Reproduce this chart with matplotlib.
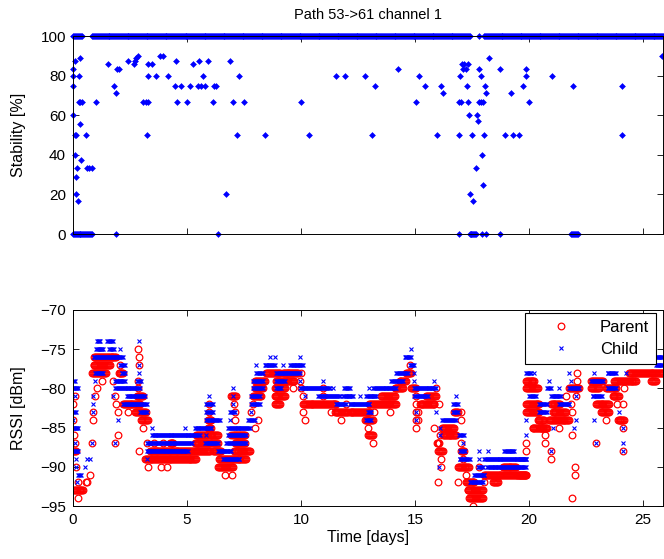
import numpy as np
import matplotlib
matplotlib.use("Agg")
import matplotlib.pyplot as plt

plt.rcParams['font.family'] = ['Liberation Sans', 'DejaVu Sans']

# one sample per hour, time in days
dt = 1.0 / 24

# ---- Stability [%] ----
# runs (start day, end day, value)
stab_runs = [
    (0.00, 0.38, 100), (0.85, 17.39, 100), (17.82, 17.82, 100), (18.04, 25.87, 100),
    (0.00, 0.82, 0), (1.90, 1.90, 0), (6.36, 6.36, 0), (16.92, 16.92, 0),
    (17.39, 17.68, 0), (17.93, 17.93, 0), (18.12, 18.12, 0), (18.73, 18.73, 0),
    (21.84, 22.13, 0),
]
stab_t = [0.01, 0.09, 0.00, 0.25, 0.00, 0.30, 0.25, 0.32, 0.38, 0.00, 0.30, 0.08,
          0.12, 0.55, 0.09, 0.35, 0.19, 0.60, 0.70, 0.82, 0.13, 0.13, 0.23, 1.00,
          1.55, 1.80, 1.90, 1.93, 2.03, 2.42, 2.67, 2.72, 2.78, 2.86, 3.08, 3.20,
          3.30, 3.26, 3.30, 3.45, 3.30, 3.66, 3.81, 3.95, 4.15, 4.47, 4.72, 4.51,
          4.57, 5.00, 5.15, 5.27, 5.53, 5.49, 5.60, 5.78, 5.68, 5.93, 6.18, 6.29,
          6.12, 6.70, 6.88, 7.00, 7.27, 7.21, 7.50, 8.41, 10.01, 10.35, 11.52, 11.91,
          12.79, 13.23, 13.12, 14.25, 15.17, 15.42, 15.05, 15.96, 16.15, 16.22, 16.92, 16.92,
          17.02, 16.98, 17.07, 17.15, 17.31, 17.10, 17.22, 17.27, 17.31, 17.36, 17.48, 17.42,
          17.53, 17.68, 17.72, 17.78, 17.80, 17.88, 17.98, 17.82, 17.87, 17.93, 17.97, 18.00,
          18.07, 18.12, 18.22, 18.73, 18.96, 19.21, 19.28, 19.57, 19.72, 19.87, 19.87, 20.01,
          21.01, 21.93, 24.09, 24.09, 25.83]
stab_v = [83.3, 87.5, 80, 80, 75, 88.9, 66.7, 66.7, 66.7, 60, 55.6, 50,
          50, 50, 40, 37.5, 33.3, 33.3, 33.3, 33.3, 28.6, 20, 16.7, 66.7,
          85.7, 75, 71.4, 83.3, 83.3, 87.5, 85.7, 87.5, 88.9, 90, 66.7, 66.7,
          66.7, 50, 85.7, 85.7, 80, 80, 90, 90, 80, 75, 75, 87.5,
          66.7, 66.7, 75, 85.7, 87.5, 75, 75, 75, 80, 87.5, 75, 75,
          66.7, 20, 87.5, 66.7, 80, 50, 66.7, 50, 66.7, 50, 80, 80,
          80, 75, 50, 83.3, 80, 75, 66.7, 50, 75, 71.4, 50, 66.7,
          66.7, 80, 85.7, 85.7, 85.7, 83.3, 83.3, 75, 66.7, 60, 50, 20,
          16.7, 33.3, 60, 57.1, 66.7, 66.7, 66.7, 83.3, 80, 40, 25, 50,
          75, 71.4, 88.9, 83.3, 50, 71.4, 50, 50, 75, 83.3, 80, 66.7,
          80, 75, 75, 50, 90]

# ---- RSSI [dBm], runs (start day, end day, dBm) ----
parent_runs = [
    # first day
    (0.00, 0.00, -82), (0.00, 0.00, -84), (0.09, 0.09, -81), (0.05, 0.05, -86),
    (0.09, 0.09, -87), (0.02, 0.15, -88), (0.15, 0.15, -90), (0.23, 0.23, -92),
    (0.04, 0.45, -93), (0.23, 0.23, -94), (0.57, 0.62, -92), (0.74, 0.74, -91),
    (0.84, 0.84, -87), (0.86, 0.86, -84), (0.86, 0.86, -83),
    # first peak
    (0.93, 1.90, -76), (0.90, 1.62, -77), (0.85, 1.45, -78), (1.04, 1.04, -80),
    (0.96, 0.96, -81), (1.26, 1.26, -79), (1.77, 1.77, -79), (1.84, 1.84, -81),
    (1.90, 1.90, -82), (1.99, 1.99, -83), (1.99, 1.99, -86), (1.84, 1.84, -87),
    (2.06, 2.06, -77), (2.00, 2.20, -78), (2.86, 2.86, -75), (2.90, 2.90, -76),
    (2.90, 2.90, -77), (2.86, 2.86, -79), (2.86, 2.86, -80), (2.80, 3.05, -81),
    (2.20, 2.93, -82), (2.40, 2.40, -83), (2.72, 3.20, -83), (3.00, 3.30, -84),
    (3.08, 3.08, -85), (2.90, 2.90, -88),
    # first dip
    (3.25, 3.25, -87), (3.55, 3.55, -87), (3.95, 3.95, -87), (4.25, 4.40, -87),
    (3.37, 6.00, -88), (3.15, 5.40, -89), (3.30, 3.30, -90), (3.88, 3.88, -90),
    (4.10, 4.10, -90),
    (5.40, 5.90, -86), (5.34, 5.99, -87), (5.95, 5.95, -82), (5.95, 5.95, -83),
    (5.92, 6.07, -84), (5.90, 6.07, -85), (5.99, 6.36, -86), (6.07, 6.36, -87),
    (6.14, 6.50, -88), (6.40, 7.00, -89), (6.36, 7.00, -90), (6.66, 6.66, -91),
    (6.95, 6.95, -91), (7.05, 7.75, -88), (7.09, 7.53, -87), (7.02, 7.53, -86),
    (6.94, 6.94, -86), (7.00, 7.60, -89), (6.94, 7.16, -81), (7.06, 7.06, -82),
    (7.09, 7.09, -83), (7.09, 7.09, -84),
    # second peak
    (7.90, 7.90, -82), (7.82, 7.82, -83), (8.10, 8.10, -84), (7.97, 7.97, -85),
    (7.90, 8.26, -81), (7.97, 8.33, -80), (7.97, 8.40, -79), (8.48, 9.06, -78),
    (8.84, 9.28, -80), (8.84, 9.28, -81), (8.90, 9.70, -79), (9.20, 9.86, -78),
    (8.85, 9.07, -82), (9.65, 9.65, -80), (10.00, 10.00, -80),
    # plateau
    (9.94, 9.94, -79), (10.01, 10.01, -78), (10.08, 10.08, -81), (10.08, 11.55, -82),
    (10.09, 10.09, -83), (10.16, 10.16, -84), (10.96, 10.96, -80), (10.96, 10.96, -81),
    (11.33, 11.33, -83), (11.47, 12.06, -83), (11.77, 11.77, -84), (11.98, 11.98, -82),
    (12.13, 13.00, -83), (12.79, 13.15, -84), (12.93, 12.93, -85), (12.93, 13.15, -86),
    (13.15, 13.15, -87), (13.00, 14.17, -82), (13.22, 13.22, -83), (13.52, 14.10, -81),
    (13.90, 13.90, -83), (14.10, 14.47, -80), (14.32, 14.60, -79), (14.60, 14.83, -78),
    (14.76, 14.76, -77),
    # second dip
    (14.83, 15.05, -80), (15.05, 15.05, -81), (15.05, 15.05, -82), (15.05, 15.05, -83),
    (15.05, 15.05, -84), (15.50, 15.90, -81), (15.20, 15.85, -82), (15.92, 15.92, -80),
    (16.06, 16.06, -82), (15.12, 15.12, -83), (16.72, 16.87, -83), (17.00, 17.00, -83),
    (15.12, 15.12, -84), (17.00, 17.00, -84), (15.05, 15.05, -85), (15.85, 15.85, -85),
    (16.20, 16.72, -85), (16.22, 16.80, -86), (16.10, 16.10, -86), (15.95, 16.06, -87),
    (17.00, 17.00, -87), (15.99, 16.21, -88), (17.00, 17.16, -88), (17.09, 17.09, -89),
    (16.15, 16.15, -89), (16.14, 16.14, -90), (16.87, 17.38, -90), (17.82, 17.82, -90),
    (18.85, 19.43, -90), (17.23, 17.23, -91), (18.04, 19.86, -91), (15.99, 15.99, -92),
    (16.87, 16.87, -92), (17.24, 17.60, -92), (18.04, 18.04, -92), (18.40, 18.62, -92),
    (17.30, 17.96, -93), (17.38, 17.96, -94), (17.52, 17.52, -95),
    # last week
    (19.57, 19.86, -91), (19.86, 19.86, -87), (19.86, 19.86, -88), (19.86, 20.23, -79),
    (19.86, 20.37, -80), (19.86, 20.45, -82), (19.86, 20.45, -83), (20.15, 20.60, -85),
    (20.37, 20.66, -84), (20.52, 20.80, -85), (20.70, 20.70, -86), (20.70, 20.70, -87),
    (20.96, 20.96, -88), (20.96, 20.96, -89), (20.88, 21.76, -84), (20.95, 21.35, -82),
    (21.03, 21.61, -83), (21.29, 21.29, -85), (21.61, 21.61, -81), (21.76, 22.20, -80),
    (21.83, 21.83, -82), (21.86, 21.86, -86), (21.90, 21.90, -83), (21.90, 21.90, -94),
    (22.02, 22.02, -90), (22.02, 22.02, -91), (22.05, 22.05, -81), (22.12, 22.12, -78),
    (22.12, 22.12, -79), (22.70, 23.22, -79), (22.70, 23.05, -80), (22.93, 23.50, -82),
    (22.93, 22.93, -87), (23.15, 23.50, -83), (23.37, 23.37, -84), (23.37, 23.80, -80),
    (23.66, 23.95, -81), (23.73, 24.70, -79), (23.85, 23.85, -82), (23.88, 24.17, -84),
    (24.10, 24.10, -82), (24.10, 24.10, -85), (24.10, 24.10, -88), (24.17, 24.17, -80),
    (24.40, 25.87, -78), (25.34, 25.56, -79),
]

child_runs = [
    # first day
    (0.00, 0.09, -79), (0.00, 0.23, -80), (0.07, 0.07, -81), (0.00, 0.12, -83),
    (0.00, 0.00, -84), (0.00, 0.23, -85), (0.09, 0.09, -87), (0.00, 0.23, -88),
    (0.13, 0.13, -89), (0.13, 0.13, -90), (0.53, 0.53, -90), (0.23, 0.35, -91),
    (0.16, 0.16, -92), (0.60, 0.60, -89), (0.89, 0.89, -81), (0.86, 0.86, -82),
    (0.86, 0.86, -83), (0.82, 0.82, -87), (0.75, 0.75, -89),
    # first peak
    (1.04, 1.20, -74), (1.50, 1.77, -74), (2.90, 2.90, -74), (1.00, 1.33, -75),
    (1.60, 1.80, -75), (2.06, 2.06, -75), (0.90, 2.20, -76), (2.06, 2.28, -77),
    (2.90, 2.90, -77), (0.96, 1.33, -78), (2.13, 2.28, -78), (2.90, 2.90, -78),
    (0.96, 0.96, -79), (1.84, 2.28, -79), (2.79, 2.96, -79), (1.84, 2.94, -80),
    (1.77, 1.77, -81), (2.35, 3.15, -81), (2.20, 3.23, -82), (2.93, 3.23, -83),
    (1.99, 1.99, -84), (3.45, 3.45, -85), (1.84, 1.84, -87), (3.23, 3.23, -89),
    # first dip
    (3.45, 5.56, -86), (3.23, 5.20, -87), (3.23, 5.05, -88), (4.90, 4.90, -85),
    (5.34, 6.07, -85), (5.85, 5.85, -86), (5.78, 6.36, -87), (5.95, 5.95, -81),
    (5.85, 6.15, -82), (5.85, 6.15, -83), (5.85, 6.43, -84), (6.36, 6.94, -88),
    (6.58, 7.30, -89), (6.72, 7.60, -87), (6.80, 7.60, -86), (6.80, 7.75, -85),
    (6.87, 6.87, -84), (6.87, 7.09, -83), (7.02, 7.02, -82), (7.02, 7.02, -81),
    (7.02, 7.02, -80), (7.68, 7.97, -84), (7.82, 7.82, -83), (7.82, 8.20, -82),
    (7.82, 8.20, -81),
    # second peak
    (7.90, 8.33, -80), (7.90, 8.33, -79), (8.04, 8.33, -78), (8.04, 8.04, -77),
    (8.40, 8.85, -77), (8.63, 8.63, -76), (8.87, 8.87, -76), (8.90, 9.94, -78),
    (8.90, 9.28, -79), (8.90, 9.13, -80), (9.20, 9.20, -77), (9.50, 10.10, -77),
    (9.94, 9.94, -76), (9.94, 9.94, -79),
    # plateau
    (9.94, 11.25, -80), (10.16, 10.16, -81), (10.74, 11.69, -81), (10.96, 10.96, -79),
    (11.40, 11.40, -80), (11.55, 11.98, -82), (11.84, 12.28, -81), (11.90, 12.13, -80),
    (12.13, 13.00, -82), (12.57, 12.57, -81), (12.86, 13.30, -81), (12.86, 13.08, -84),
    (12.93, 13.08, -83), (13.00, 13.00, -80), (13.15, 14.17, -80), (13.95, 14.47, -79),
    (14.17, 14.68, -78), (14.54, 14.83, -76), (14.76, 14.97, -77), (14.83, 14.83, -75),
    # second dip
    (14.97, 14.97, -78), (14.97, 14.97, -79), (14.97, 15.92, -80), (14.97, 15.55, -81),
    (15.05, 15.05, -83), (15.05, 15.05, -84), (15.85, 15.85, -79), (15.92, 15.92, -83),
    (16.06, 16.06, -90), (16.10, 16.10, -85), (16.10, 16.10, -86), (16.20, 16.80, -84),
    (16.65, 16.87, -82), (16.65, 16.87, -83), (16.80, 16.80, -81), (16.94, 17.16, -86),
    (16.95, 17.17, -88), (16.95, 17.39, -89), (17.09, 17.09, -87), (17.39, 17.96, -92),
    (17.60, 18.04, -91), (17.75, 17.97, -90), (17.82, 17.82, -89), (17.80, 17.80, -88),
    (18.04, 19.86, -89), (18.15, 19.86, -90), (18.20, 18.20, -88), (18.90, 19.35, -88),
    # last week
    (19.64, 19.86, -89), (19.64, 19.64, -90), (19.86, 19.86, -86), (19.86, 19.86, -84),
    (19.86, 20.08, -78), (20.01, 20.30, -81), (20.23, 20.23, -78), (20.45, 20.80, -82),
    (21.33, 21.77, -82), (20.45, 20.80, -83), (20.88, 20.88, -79), (20.80, 20.95, -80),
    (20.96, 21.40, -81), (20.96, 20.96, -88), (21.05, 21.05, -85), (21.32, 21.32, -80),
    (21.76, 21.76, -78), (21.83, 21.83, -79), (21.76, 22.20, -80), (21.98, 21.98, -85),
    (22.06, 22.06, -81), (22.06, 22.06, -84), (22.70, 23.22, -79), (22.85, 22.85, -78),
    (22.78, 23.20, -81), (22.85, 22.85, -84), (22.93, 22.93, -87), (23.44, 23.80, -78),
    (23.44, 23.80, -80), (23.95, 23.95, -83), (24.10, 24.10, -85), (24.10, 24.10, -87),
    (24.10, 24.10, -88), (24.24, 24.24, -78), (25.55, 25.87, -76), (25.55, 25.87, -77),
]


def expand(runs):
    # runs of equal readings -> hourly samples
    t, v = [], []
    for t0, t1, val in runs:
        n = int(round((t1 - t0) / dt)) + 1
        t.extend(np.linspace(t0, t1, n))
        v.extend([val] * n)
    return np.array(t), np.array(v)


st_t, st_v = expand(stab_runs)
st_t = np.concatenate([st_t, stab_t])
st_v = np.concatenate([st_v, stab_v])
p_t, p_v = expand(parent_runs)
c_t, c_v = expand(child_runs)

fig = plt.figure(figsize=(6.64, 5.59), dpi=100)
W, H = 664.0, 559.0
ax1 = fig.add_axes([73 / W, 1 - 234 / H, 590 / W, 198 / H])
ax2 = fig.add_axes([73 / W, 1 - 506 / H, 590 / W, 196 / H])

ax1.plot(st_t, st_v, 'D', color='#0000ff', markersize=3.0, markeredgewidth=0.4,
         clip_on=False)
ax1.set_xlim(0, 25.87)
ax1.set_ylim(0, 100)
ax1.set_yticks([0, 20, 40, 60, 80, 100])
ax1.set_xticks([0, 5, 10, 15, 20, 25])
ax1.set_xticklabels([])
ax1.set_ylabel('Stability [%]', fontsize=11.5)
ax1.set_title('Path 53->61 channel 1', fontsize=10.5, pad=12)

ax2.plot(p_t, p_v, 'o', markerfacecolor='none', markeredgecolor='#ff0000',
         markersize=4.8, markeredgewidth=0.9, label='Parent')
ax2.plot(c_t, c_v, 'x', color='#0000ff', markersize=2.8, markeredgewidth=0.8,
         label='Child')
ax2.set_xlim(0, 25.87)
ax2.set_ylim(-95, -70)
ax2.set_yticks([-95, -90, -85, -80, -75, -70])
ax2.set_xticks([0, 5, 10, 15, 20, 25])
ax2.set_xlabel('Time [days]', fontsize=11.5, labelpad=2)
ax2.set_ylabel('RSSI [dBm]', fontsize=11.5)

leg = ax2.legend(loc='upper right', bbox_to_anchor=(0.988, 0.985), borderaxespad=0,
                 fontsize=12, fancybox=False, framealpha=1, edgecolor='black',
                 handlelength=3.5, handletextpad=0.6, labelspacing=0.45,
                 borderpad=0.4, markerscale=1.0)
leg.get_frame().set_linewidth(0.8)

for ax in (ax1, ax2):
    ax.tick_params(direction='in', length=4, width=0.6, top=True, right=True,
                   labelsize=11, pad=5)
    for s in ax.spines.values():
        s.set_linewidth(0.7)
    ax.yaxis.set_label_coords(-0.079, 0.5)

fig.savefig('out.png', dpi=100)
